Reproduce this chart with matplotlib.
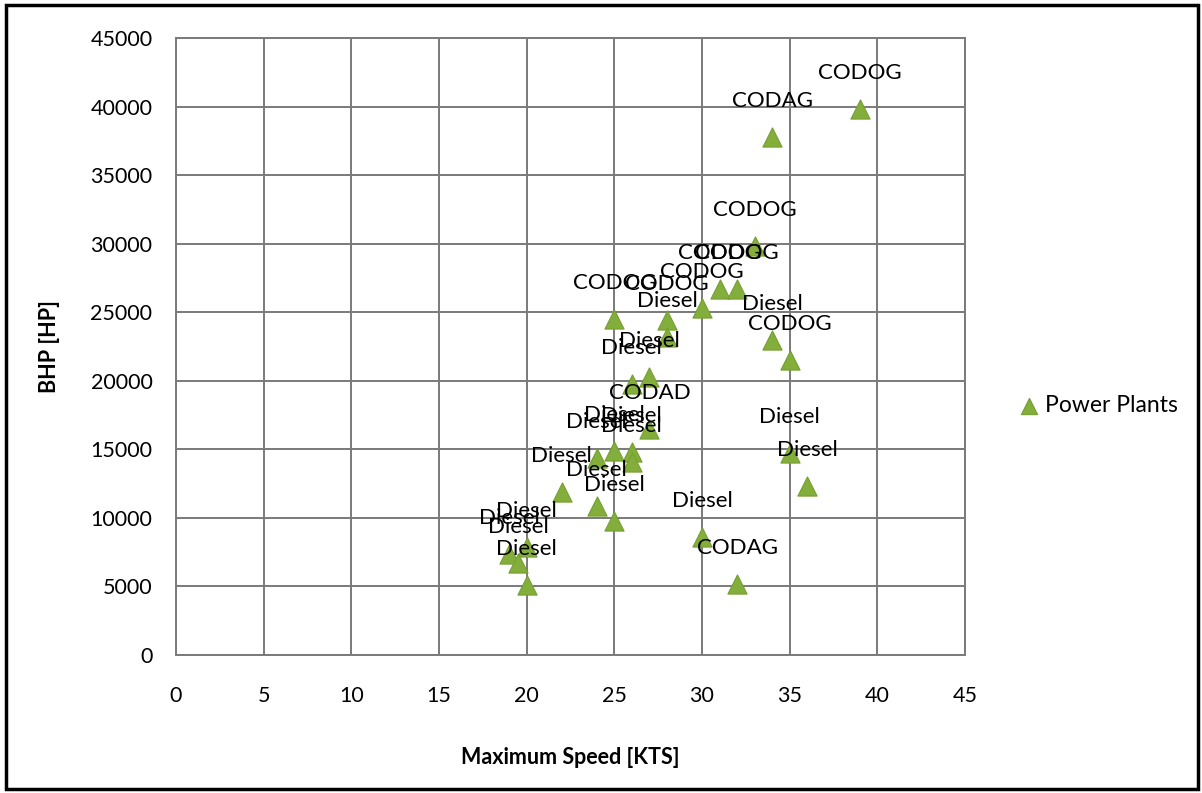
import matplotlib
matplotlib.use("Agg")
import matplotlib.pyplot as plt
from matplotlib.patches import Rectangle

plt.rcParams['font.family'] = ['Lato', 'DejaVu Sans']

# Data
speed_kts = [39, 34, 33, 31, 32, 30, 28, 25, 28, 27, 26, 34, 35, 27,
             24, 25, 26, 26, 22, 24, 25, 30, 32, 35, 36, 20, 19, 19.5, 20]
bhp_hp = [39800, 37800, 29800, 26700, 26700, 25300, 24400, 24500, 23200, 20300,
          19800, 23000, 21500, 16500, 14400, 14900, 14800, 14100, 11900, 10900,
          9800, 8600, 5200, 14700, 12300, 7900, 7400, 6700, 5100]
plant_type = ["CODOG", "CODAG", "CODOG", "CODOG", "CODOG", "CODOG", "CODOG", "CODOG",
              "Diesel", "Diesel", "Diesel", "Diesel", "CODOG", "CODAD",
              "Diesel", "Diesel", "Diesel", "Diesel", "Diesel", "Diesel",
              "Diesel", "Diesel", "CODAG", "Diesel", "Diesel",
              "Diesel", "Diesel", "Diesel", "Diesel"]
series_name = "Power Plants"
x_ticks = [0, 5, 10, 15, 20, 25, 30, 35, 40, 45]
y_ticks = [0, 5000, 10000, 15000, 20000, 25000, 30000, 35000, 40000, 45000]

W, H = 1202, 793
fig = plt.figure(figsize=(W / 100, H / 100), dpi=100)
ax = fig.add_axes([176 / W, 1 - 655 / H, (965 - 176) / W, (655 - 38) / H])

grid_col = '#7a7a7a'
ax.scatter(speed_kts, bhp_hp, marker='^', s=190, color='#84AE3C',
           edgecolors='#74A030', linewidths=0.8, zorder=3, label=series_name)

for x, y, t in zip(speed_kts, bhp_hp, plant_type):
    ax.annotate(t, (x, y), xytext=(0, 36), textcoords='offset pixels',
                ha='center', va='center', fontsize=16, color='black', zorder=4)

ax.set_xlim(0, 45)
ax.set_ylim(0, 45000)
ax.set_xticks(x_ticks)
ax.set_yticks(y_ticks)
ax.set_xticklabels([str(v) for v in x_ticks], fontsize=15.5)
ax.set_yticklabels([str(v) for v in y_ticks], fontsize=15.5)
ax.tick_params(axis='both', length=0)
ax.tick_params(axis='y', pad=17)
ax.tick_params(axis='x', pad=22)
ax.grid(True, color=grid_col, linewidth=1.4, zorder=0)
ax.set_axisbelow(True)
for s in ax.spines.values():
    s.set_color(grid_col)
    s.set_linewidth(1.4)

ax.set_xlabel("Maximum Speed [KTS]", fontsize=15.5, fontweight='bold', labelpad=30)
ax.set_ylabel("BHP [HP]", fontsize=15.5, fontweight='bold', labelpad=22)

leg = ax.legend(loc='center left', bbox_to_anchor=(995 / W, 1 - 406 / H),
                bbox_transform=fig.transFigure, frameon=False, fontsize=16.5,
                handletextpad=0.1, handlelength=1.2, markerscale=0.85)

fig.patches.append(Rectangle((6 / W, 4 / H), (1198 - 6) / W, (788 - 4) / H,
                             transform=fig.transFigure, fill=False,
                             edgecolor='black', linewidth=2.5))

fig.savefig("out.png", dpi=100, facecolor='white')
